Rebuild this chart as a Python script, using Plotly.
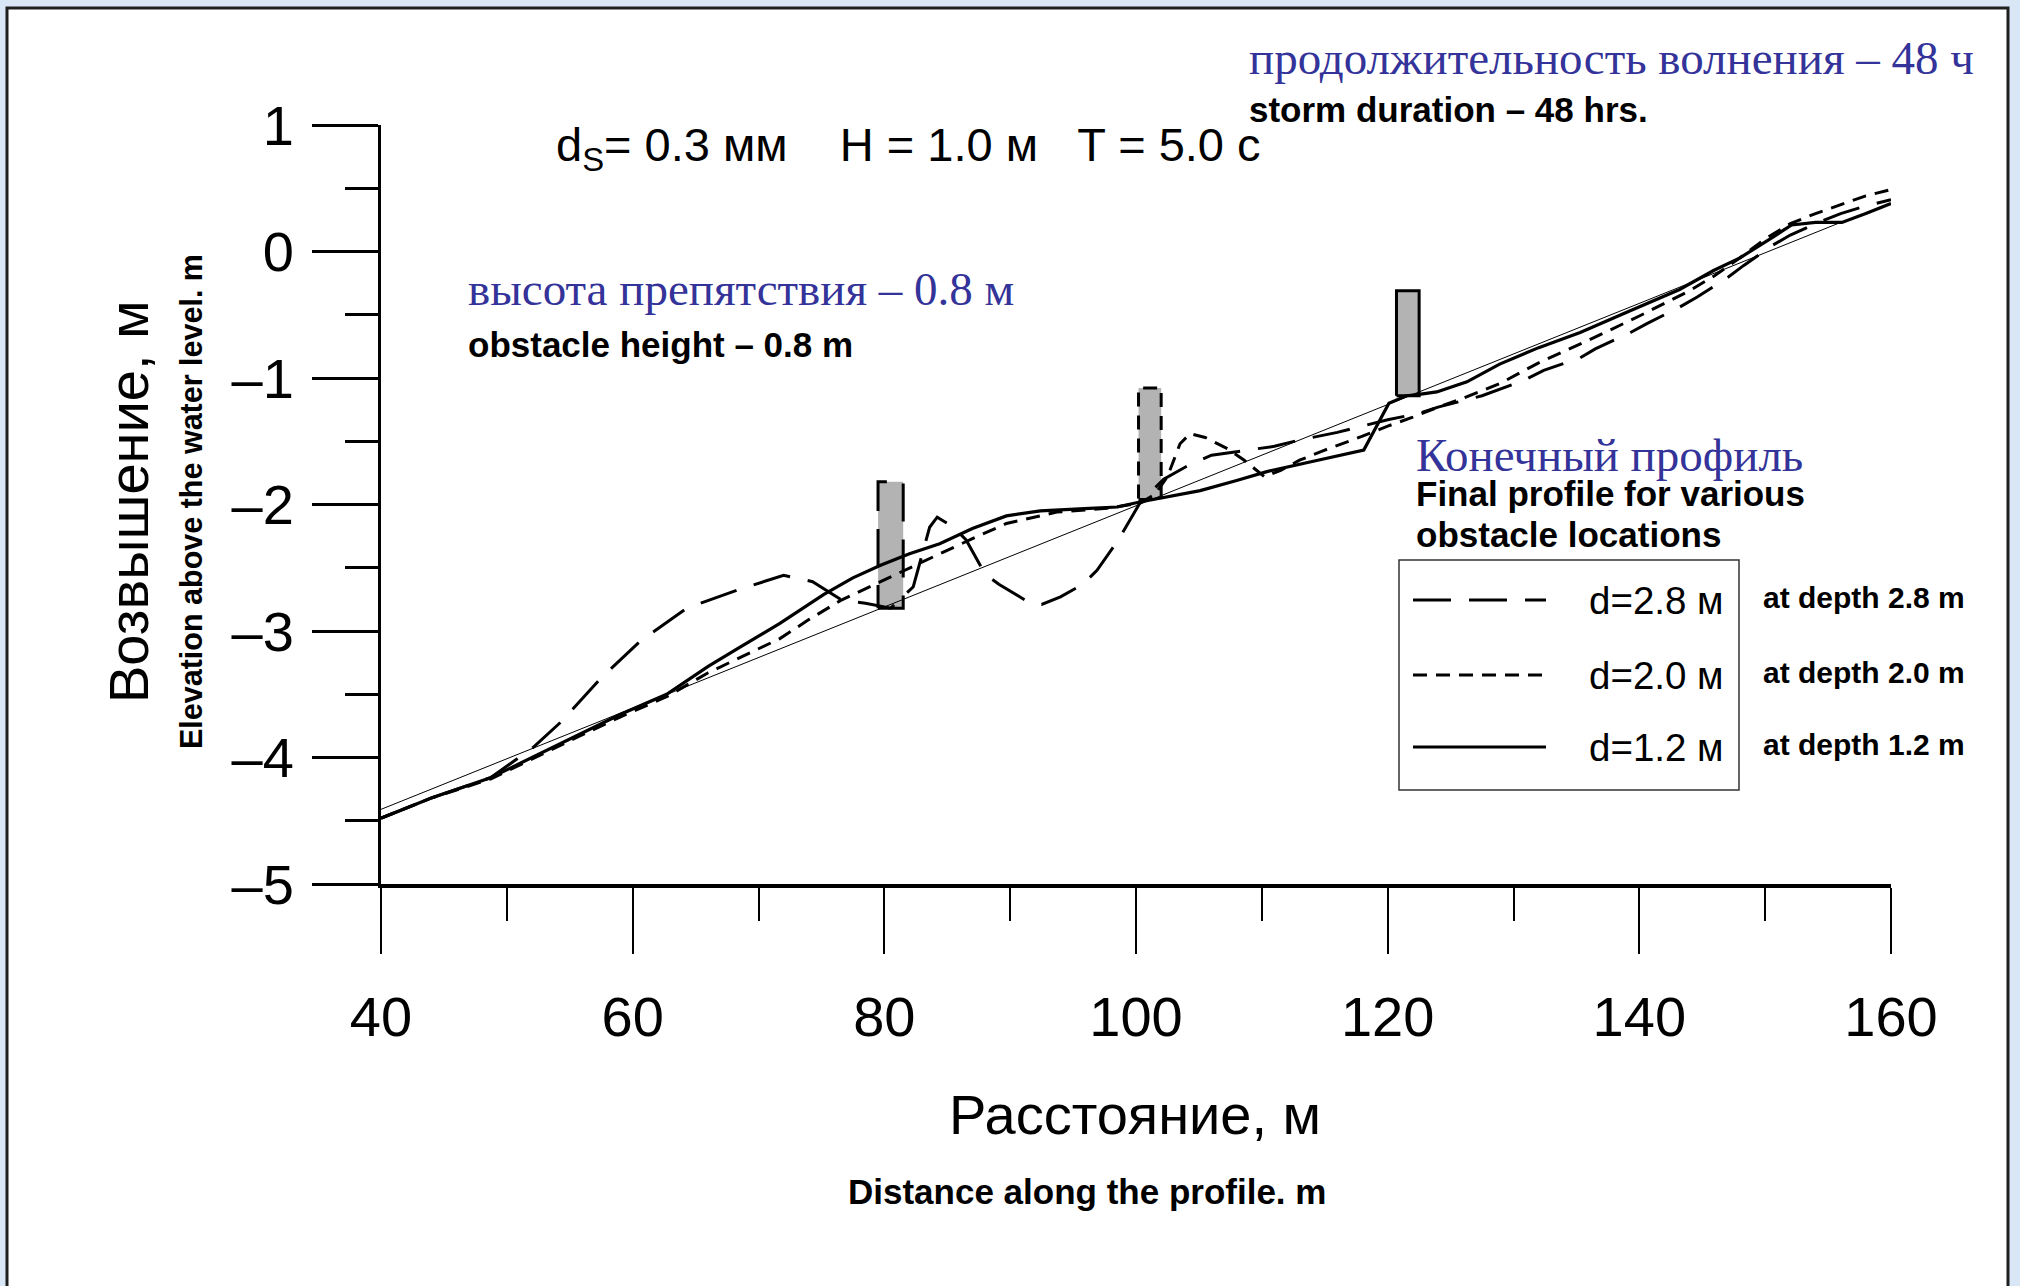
import plotly.graph_objects as go

# ---------------- data ----------------
# initial (pre-storm) straight profile
x_initial = [40, 156]
y_initial = [-4.41, 0.23]

# final profile, obstacle at depth 1.2 m (solid)
x_d12 = [40, 44, 48.7, 52, 55.8, 59, 62.7, 66, 68.5, 71.7, 75.2, 77.5, 79.7, 82, 84.4, 87,
         89.7, 92.4, 96.3, 98.5, 100.3, 102.5, 105.1, 108, 110.4, 114, 118.1, 120.1, 121.5,
         122.5, 123.9, 126.3, 128.9, 132, 135.3, 139, 143.2, 145.9, 148.0, 150.4, 152.1,
         154, 156.1, 158, 160]
y_d12 = [-4.48, -4.32, -4.16, -4.00, -3.81, -3.66, -3.50, -3.28, -3.13, -2.94, -2.71, -2.58,
         -2.48, -2.39, -2.31, -2.19, -2.09, -2.05, -2.03, -2.02, -1.98, -1.94, -1.89, -1.81,
         -1.74, -1.66, -1.57, -1.20, -1.14, -1.13, -1.11, -1.03, -0.89, -0.76, -0.64, -0.48,
         -0.30, -0.15, -0.05, 0.10, 0.21, 0.23, 0.23, 0.30, 0.38]

# final profile, obstacle at depth 2.0 m (short dash)
x_d20 = [40, 44, 48.7, 52, 55.8, 59, 62.7, 66, 68.5, 71.7, 74, 76.5, 79.7, 82, 84.4, 87, 89.7,
         93.7, 97.7, 100.3, 101.5, 102.5, 103.5, 104.3, 105.5, 107.3, 108.6, 110.2, 111.5,
         113, 115, 118, 120, 122, 124, 126, 129, 132, 136, 140, 144, 146, 148, 150, 152,
         154, 156, 158, 160]
y_d20 = [-4.48, -4.32, -4.17, -4.01, -3.83, -3.68, -3.52, -3.33, -3.21, -3.06, -2.91, -2.76,
         -2.61, -2.50, -2.39, -2.27, -2.15, -2.06, -2.03, -1.99, -1.92, -1.78, -1.52, -1.44,
         -1.47, -1.56, -1.65, -1.78, -1.73, -1.65, -1.57, -1.46, -1.38, -1.31, -1.23, -1.16,
         -1.04, -0.88, -0.70, -0.51, -0.31, -0.19, -0.05, 0.10, 0.22, 0.30, 0.37, 0.44, 0.49]

# final profile, obstacle at depth 2.8 m (long dash)
x_d28 = [40, 44, 48.7, 51.0, 52.1, 54.4, 57.4, 60.6, 64.3, 68.5, 72.0, 74.3, 76.7, 78.5, 80.5,
         82.3, 83.6, 84.2, 85.5, 86.5, 88.0, 89.1, 91.6, 92.5, 94, 95.8, 96.9, 98.6, 100.3,
         102.2, 104, 106, 109, 111, 113, 116, 118, 120, 122.5, 124, 127.5, 130.8, 132.4,
         135.3, 136.5, 139.3, 140.6, 143.2, 144.6, 147.1, 148.3, 150.6, 152, 154, 156, 158, 160]
y_d28 = [-4.48, -4.32, -4.16, -4.00, -3.92, -3.71, -3.38, -3.08, -2.82, -2.67, -2.56, -2.61,
         -2.76, -2.78, -2.82, -2.65, -2.18, -2.10, -2.18, -2.28, -2.55, -2.63, -2.78, -2.79,
         -2.73, -2.63, -2.52, -2.28, -1.99, -1.80, -1.70, -1.61, -1.57, -1.54, -1.49, -1.43,
         -1.38, -1.33, -1.28, -1.23, -1.14, -1.02, -0.94, -0.84, -0.77, -0.64, -0.57, -0.44,
         -0.36, -0.20, -0.11, 0.05, 0.13, 0.22, 0.30, 0.36, 0.41]

# obstacles (left, right, bottom, top) for depth 2.8, 2.0, 1.2 m
obst_left = [79.5, 100.2, 120.7]
obst_right = [81.5, 102.0, 122.5]
obst_bottom = [-2.82, -1.96, -1.14]
obst_top = [-1.82, -1.08, -0.31]

x_tickvals = [40, 60, 80, 100, 120, 140, 160]
y_tickvals = [1, 0, -1, -2, -3, -4, -5]
y_ticktext = ["1", "0", "–1", "–2", "–3", "–4", "–5"]

legend_ru = ["d=2.8 м", "d=2.0 м", "d=1.2 м"]
legend_en = ["at depth 2.8 m", "at depth 2.0 m", "at depth 1.2 m"]

# ---------------- styles ----------------
LONG = "38px,18px"
SHORT = "14px,9px"
styles = [LONG, SHORT, "solid"]
SANS = "Liberation Sans, Arial, sans-serif"
SERIF = "Liberation Serif, Times New Roman, serif"
BLUE = "#333399"

W, H = 2020, 1286
PL, PR, PT, PB = 381, 1891, 125, 884


def px(x):
    return (x - PL) / (PR - PL)


def py(y):
    return (PB - y) / (PB - PT)


fig = go.Figure()

# obstacles
for i in range(3):
    l, r, b, t = obst_left[i], obst_right[i], obst_bottom[i], obst_top[i]
    fig.add_trace(go.Scatter(
        x=[l, r, r, l, l], y=[b, b, t, t, b], mode="lines", fill="toself",
        fillcolor="#b3b3b3", line=dict(color="black", width=3, dash=styles[i]),
        showlegend=False, hoverinfo="skip"))

# initial profile
fig.add_trace(go.Scatter(x=x_initial, y=y_initial, mode="lines",
                         line=dict(color="black", width=1), showlegend=False))
# final profiles
fig.add_trace(go.Scatter(x=x_d28, y=y_d28, mode="lines", name=legend_ru[0],
                         line=dict(color="black", width=3, dash=LONG), showlegend=False))
fig.add_trace(go.Scatter(x=x_d20, y=y_d20, mode="lines", name=legend_ru[1],
                         line=dict(color="black", width=3, dash=SHORT), showlegend=False))
fig.add_trace(go.Scatter(x=x_d12, y=y_d12, mode="lines", name=legend_ru[2],
                         line=dict(color="black", width=3.2), showlegend=False))

shapes = []
# white slide panel with dark border
shapes.append(dict(type="rect", xref="paper", yref="paper", layer="below",
                   x0=px(7), x1=px(2008), y0=py(1310), y1=py(8),
                   fillcolor="white", line=dict(color="#1e1e1e", width=3)))
# legend box
shapes.append(dict(type="rect", xref="paper", yref="paper",
                   x0=px(1399), x1=px(1739), y0=py(790), y1=py(560),
                   fillcolor="rgba(0,0,0,0)", line=dict(color="#333333", width=1.5)))
leg_y = [600, 675, 747]
for i in range(3):
    shapes.append(dict(type="line", xref="paper", yref="paper",
                       x0=px(1413), x1=px(1546), y0=py(leg_y[i]), y1=py(leg_y[i]),
                       line=dict(color="black", width=3, dash=styles[i])))

annotations = []


def ann(text, x, y, size, family=SANS, color="black", xanchor="left", angle=0, yanchor="middle"):
    annotations.append(dict(text=text, x=px(x), y=py(y), xref="paper", yref="paper",
                            xanchor=xanchor, yanchor=yanchor, showarrow=False,
                            textangle=angle, font=dict(size=size, family=family, color=color)))


NB = "\u00a0"
ann("d<sub>S</sub>= 0.3 мм" + NB * 4 + "H = 1.0 м" + NB * 3 + "T = 5.0 с", 554, 148, 47)
ann("продолжительность волнения – 48 ч", 1247, 58, 47, family=SERIF, color=BLUE)
ann("<b>storm duration – 48 hrs.</b>", 1247, 110, 35)
ann("высота препятствия – 0.8 м", 466, 289, 47, family=SERIF, color=BLUE)
ann("<b>obstacle height – 0.8 m</b>", 466, 344, 35)
ann("Конечный профиль", 1414, 455, 47, family=SERIF, color=BLUE)
ann("<b>Final profile for various</b>", 1414, 493, 35)
ann("<b>obstacle locations</b>", 1414, 534, 35)
for i in range(3):
    ann(legend_ru[i], 1726, leg_y[i], 38.5, xanchor="right")
    ann("<b>" + legend_en[i] + "</b>", 1761, leg_y[i] - 3, 30)
ann("Возвышение, м", 129, 502, 56, angle=-90, xanchor="center")
ann("<b>Elevation above the water level. m</b>", 191, 502, 30.5, angle=-90, xanchor="center")
ann("Расстояние, м", 1135, 1114, 56, xanchor="center")
ann("<b>Distance along the profile. m</b>", 1087, 1191, 35, xanchor="center")

fig.update_layout(
    width=W, height=H, autosize=False,
    margin=dict(l=PL, r=W - PR, t=PT, b=H - PB, pad=0),
    paper_bgcolor="#d9e6f5", plot_bgcolor="white",
    shapes=shapes, annotations=annotations, showlegend=False,
    font=dict(family=SANS, color="black"),
)
fig.update_xaxes(
    range=[40, 160], tickvals=x_tickvals, showgrid=False, zeroline=False,
    showline=True, linecolor="black", linewidth=4,
    ticks="outside", ticklen=66, tickwidth=2, tickcolor="black",
    ticklabelstandoff=15, tickfont=dict(size=56, family=SANS, color="black"),
    minor=dict(dtick=10, tick0=40, ticks="outside", ticklen=33, tickwidth=2, tickcolor="black"),
)
fig.update_yaxes(
    range=[-5, 1], tickvals=y_tickvals, ticktext=y_ticktext, showgrid=False, zeroline=False,
    showline=True, linecolor="black", linewidth=3,
    ticks="outside", ticklen=66, tickwidth=3, tickcolor="black",
    ticklabelstandoff=7, tickfont=dict(size=56, family=SANS, color="black"),
    minor=dict(dtick=0.5, tick0=0, ticks="outside", ticklen=33, tickwidth=3, tickcolor="black"),
)

fig.write_html("out.html")
